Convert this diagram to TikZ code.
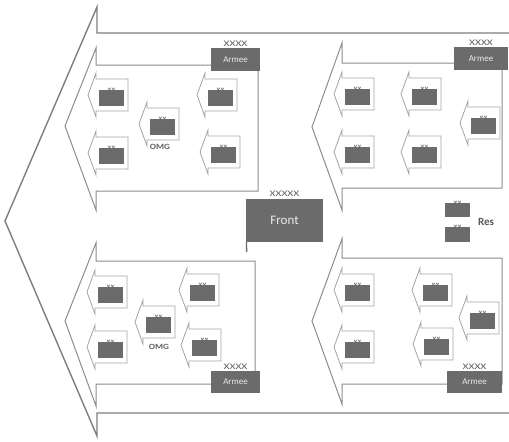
\documentclass[tikz,border=0pt]{standalone}
\usepackage{fontspec}
\setmainfont{Carlito}
\usetikzlibrary{positioning}
\definecolor{unitgray}{HTML}{6B6B6B}
\definecolor{linegray}{HTML}{8C8C8C}

\tikzset{
  frontline/.style={draw=linegray!90!black, line width=1.4pt},
  armyline/.style={draw=linegray, line width=1pt},
  divline/.style={draw=linegray!80, line width=0.8pt},
  unitbox/.style={fill=unitgray, minimum width=25pt, minimum height=16pt, inner sep=0pt},
  hqbox/.style={fill=unitgray, text=white!92!black, inner sep=0pt, font=\fontsize{9}{10}\selectfont},
  echelon/.style={text=unitgray!90!black, inner sep=0pt, xscale=1.35, font=\fontsize{8.5}{9}\selectfont},
  smallech/.style={text=unitgray, inner sep=0pt, xscale=1.4, font=\bfseries\fontsize{5}{5}\selectfont},
  omglabel/.style={text=unitgray!90!black, inner sep=0pt, xscale=1.15, font=\bfseries\fontsize{8}{9}\selectfont},
}

\begin{document}
\begin{tikzpicture}[x=1pt, y=-1pt]
  \useasboundingbox (0,0) rectangle (509,442);
  \def\dw{32}\def\dh{32}\def\dt{8}\def\db{6}

  % front arrow
  \draw[frontline] (509,33) -- (97,33) -- (97,7) -- (5,221) -- (97,436) -- (97,413) -- (509,413);

  % army arrows
  \draw[armyline] (258,65) -- (96,65) -- (96,48) -- (65,126) -- (96,210) -- (96,191) -- (258,191) -- cycle;
  \draw[armyline] (502,63) -- (342,63) -- (342,43) -- (312,127) -- (342,210) -- (342,188) -- (502,188) -- cycle;
  \draw[armyline] (255,261) -- (96,261) -- (96,243) -- (65,321) -- (96,406) -- (96,384) -- (255,384) -- cycle;
  \draw[armyline] (502,258) -- (342,258) -- (342,239) -- (312,321) -- (342,404) -- (342,384) -- (502,384) -- cycle;

  % divisions
  \foreach \xl/\yt [count=\i] in {96/79, 96/137, 147/108, 205/79, 208/136,
      342/78, 409/78, 342/136, 409/136, 468/107,
      95/276, 95/331, 143/306, 187/274, 189/329,
      342/274, 342/331, 420/274, 421/328, 467/302} {
    \draw[divline] (\xl+\dw,\yt) -- (\xl,\yt) -- (\xl,\yt-\db) -- (\xl-\dt,\yt+\dh/2)
      -- (\xl,\yt+\dh+\db) -- (\xl,\yt+\dh) -- (\xl+\dw,\yt+\dh) -- cycle;
    \node[unitbox] (div\i) at (\xl+15.5,\yt+19) {};
    \node[smallech, above=-1.6pt of div\i] (xx\i) {XX};
  }
  \node[omglabel] (omgtop) at (160,147) {OMG};
  \node[omglabel] (omgbot) at (159,347) {OMG};

  % army HQs
  \node[hqbox, minimum width=49pt, minimum height=23pt] (armeeUL) at (235.5,59.5) {Armee};
  \node[hqbox, minimum width=54pt, minimum height=23pt] (armeeUR) at (481,58.5) {Armee};
  \node[hqbox, minimum width=49pt, minimum height=22pt] (armeeLL) at (235.5,382) {Armee};
  \node[hqbox, minimum width=55pt, minimum height=22pt] (armeeLR) at (474.5,382) {Armee};
  \foreach \a in {UL, UR, LL, LR}
    \node[echelon, above=1.5pt of armee\a] (ech\a) {XXXX};

  % front HQ
  \node[hqbox, minimum width=77pt, minimum height=43pt, font=\fontsize{13}{14}\selectfont] (front) at (284.5,220.5) {Front};
  \node[echelon, above=2pt of front] (echfront) {XXXXX};
  \coordinate (polefoot) at (246.7,252);
  \draw[unitgray, line width=1.3pt] ([xshift=0.65pt]front.south west) -- (polefoot);

  % reserve
  \node[unitbox, minimum height=14pt] (res1) at (457.5,210) {};
  \node[unitbox, minimum height=15pt] (res2) at (457.5,234.5) {};
  \node[smallech, above=-1.6pt of res1] (xxres1) {XX};
  \node[smallech, above=-1.6pt of res2] (xxres2) {XX};
  \node[text=unitgray!80!black, inner sep=0pt, font=\bfseries\fontsize{11}{12}\selectfont] (res) at (486,222) {Res};
\end{tikzpicture}
\end{document}
